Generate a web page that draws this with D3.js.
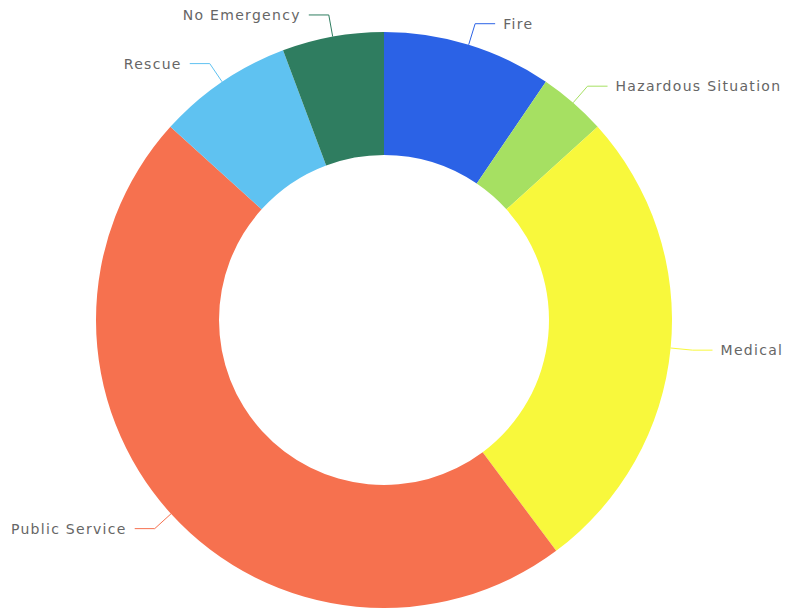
<!DOCTYPE html>
<html>
<head>
<meta charset="utf-8">
<script src="https://cdnjs.cloudflare.com/ajax/libs/d3/7.8.5/d3.min.js"></script>
<style>
  body { margin: 0; background: #fff; }
  text { font-family: "DejaVu Sans", sans-serif; }
</style>
</head>
<body>
<div id="chart"></div>
<script>
// dane - udzialy typow zgloszen (w %)
var kategorie = ["Fire", "Hazardous Situation", "Medical", "Public Service", "Rescue", "No Emergency"];
var wartosci = [9.5, 3.8, 26.5, 46.9, 7.6, 5.7];
var kolory = ["#2b62e6", "#a6e062", "#f8f83c", "#f6714f", "#5fc2f1", "#2f7d60"];

var width = 785, height = 611;
var radius = 288, innerR = 165;

var svg = d3.select("#chart").append("svg")
    .attr("width", width)
    .attr("height", height);

var g = svg.append("g")
    .attr("transform", "translate(384,320)");

var dane = kategorie.map(function(k, i){ return {nazwa: k, wartosc: wartosci[i]}; });

var kolor = d3.scaleOrdinal().domain(kategorie).range(kolory);

var pie = d3.pie().sort(null).value(function(d){ return d.wartosc; });

var arc = d3.arc().innerRadius(innerR).outerRadius(radius);
var arcBrzeg = d3.arc().innerRadius(radius).outerRadius(radius);
var arcZew = d3.arc().innerRadius(310).outerRadius(310);

var luki = pie(dane);

// wycinki
g.selectAll("path.slice")
    .data(luki)
    .enter().append("path")
    .attr("class", "slice")
    .attr("d", arc)
    .attr("fill", function(d){ return kolor(d.data.nazwa); });

function strona(d){ return (d.startAngle + d.endAngle) / 2 < Math.PI ? 1 : -1; }

// linie do etykiet
g.selectAll("polyline")
    .data(luki)
    .enter().append("polyline")
    .attr("points", function(d){
        var a = arcBrzeg.centroid(d), b = arcZew.centroid(d);
        var c = [b[0] + 20 * strona(d), b[1]];
        return [a, b, c];
    })
    .attr("fill", "none")
    .attr("stroke", function(d){ return kolor(d.data.nazwa); })
    .attr("stroke-width", 1);

// etykiety
g.selectAll("text.label")
    .data(luki)
    .enter().append("text")
    .attr("class", "label")
    .attr("x", function(d){ return arcZew.centroid(d)[0] + 28 * strona(d); })
    .attr("y", function(d){ return arcZew.centroid(d)[1]; })
    .attr("dy", ".35em")
    .attr("text-anchor", function(d){ return strona(d) > 0 ? "start" : "end"; })
    .style("font-size", "14px")
    .style("letter-spacing", "1.3px")
    .style("fill", "#666")
    .text(function(d){ return d.data.nazwa; });
</script>
</body>
</html>
